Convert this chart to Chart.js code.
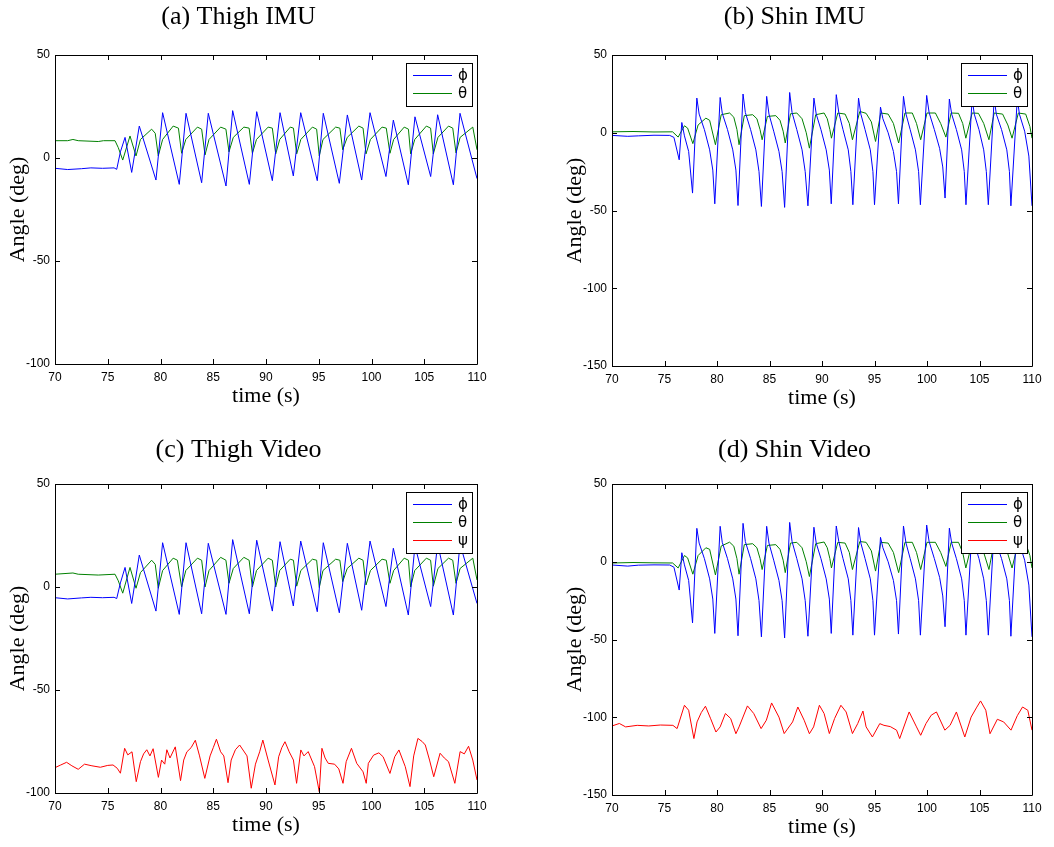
<!DOCTYPE html>
<html>
<head>
<meta charset="utf-8">
<script src="https://cdn.jsdelivr.net/npm/chart.js@4/dist/chart.umd.min.js"></script>
<style>
  body { margin: 0; background: #fff; width: 1054px; height: 847px; position: relative; overflow: hidden; }
  canvas { position: absolute; }
</style>
</head>
<body>
<canvas id="thighImu" width="498" height="420" style="left:0;top:0"></canvas>
<canvas id="shinImu" width="530" height="420" style="left:557px;top:0"></canvas>
<canvas id="thighVideo" width="506" height="418" style="left:0;top:429px"></canvas>
<canvas id="shinVideo" width="542" height="418" style="left:557px;top:429px"></canvas>
<script>
// time ticks shared by all panels
const timeTicks = [70, 75, 80, 85, 90, 95, 100, 105, 110];
const thighTicks = [-100, -50, 0, 50];
const shinTicks = [-150, -100, -50, 0, 50];

// [time (s), angle (deg)]
const thighImuPhi = [[70,-5],[71.2,-5.6],[72.5,-5.2],[73.4,-4.8],[74.5,-5],[75.6,-4.8],[75.85,-5.5],[76.2,3],[76.64,10],[77.27,-7],[77.99,15.5],[79.57,-10.7],[80.2,22],[81.78,-12.8],[82.42,21.7],[83.9,-12],[84.53,21.7],[86.21,-13.6],[86.84,23],[88.42,-12.8],[89.12,22.5],[90.6,-11],[91.33,22],[92.59,-8.7],[93.29,22],[94.86,-11],[95.43,21.7],[96.95,-12.3],[97.71,20.9],[99.07,-10.7],[99.86,22],[101.37,-9],[102.07,18.4],[103.49,-13],[104.12,20],[105.61,-9],[106.27,21],[107.76,-13],[108.39,21.7],[110,-10]];
const thighImuTheta = [[70,8.4],[71.2,8.4],[71.7,9],[72.2,8.4],[74.1,8],[74.6,8.4],[75.69,8.4],[76.0,5],[76.42,-1],[77.11,10.7],[77.68,1],[78.1,9],[79.16,14],[79.5,12],[79.79,1],[80.2,9],[81.2,15.5],[81.7,14.5],[82.0,2.3],[82.4,9],[83.5,15],[83.9,14],[84.22,1.5],[84.6,9],[85.7,15],[86.2,14],[86.49,3],[86.9,10],[87.9,15],[88.4,14.5],[88.71,2.3],[89.1,9],[90.2,15],[90.6,14.5],[90.92,2],[91.3,9],[92.3,15],[92.6,14.5],[92.91,2],[93.3,9],[94.4,15],[94.8,14],[95.05,1],[95.4,9],[96.6,15],[97.0,14.5],[97.27,4],[97.7,10],[98.8,15.5],[99.2,14.5],[99.48,2],[99.9,9],[101.0,15],[101.4,14.5],[101.75,2.3],[102.1,9],[103.1,15],[103.5,14],[103.71,2],[104.1,9],[105.2,15.5],[105.6,14.5],[105.86,2],[106.3,10],[107.3,15.5],[107.7,14.5],[108.01,2.5],[108.4,10],[109.6,15],[110,4]];

const shinImuPhi = [[70,-1.7],[71.5,-2.3],[72.5,-2],[74,-1.6],[75.5,-1.7],[75.9,-3],[76.4,-17.4],[76.65,6.6],[76.9,-2],[77.3,-12],[77.67,-38.8],[78.08,22.3],[78.3,12],[78.8,2],[79.3,-11],[79.6,-24],[79.79,-45.7],[80.3,22.7],[80.5,12.6],[81.0,2],[81.5,-11],[81.8,-24],[82.0,-46.8],[82.48,24.9],[82.7,13],[83.2,2],[83.7,-11],[84.0,-25],[84.23,-47.4],[84.73,23.4],[84.95,12],[85.4,1],[85.9,-12],[86.2,-25],[86.44,-48],[86.92,25.9],[87.15,13],[87.6,2],[88.1,-11],[88.4,-25],[88.66,-47],[89.23,22.3],[89.45,12],[89.9,2],[90.4,-11],[90.7,-24],[90.88,-45.7],[91.36,24.5],[91.6,13],[92.0,2],[92.5,-11],[92.75,-25],[92.94,-46.3],[93.48,22.3],[93.7,12],[94.1,2],[94.6,-11],[94.85,-25],[95.0,-46.3],[95.57,16.5],[95.8,9],[96.3,0],[96.8,-12],[97.1,-25],[97.28,-45.7],[97.76,23.4],[98.0,12],[98.4,2],[98.9,-11],[99.2,-25],[99.37,-46.3],[99.97,24],[100.2,13],[100.7,2],[101.2,-10],[101.5,-22],[101.72,-42],[102.13,21.7],[102.35,12],[102.8,2],[103.3,-11],[103.55,-25],[103.71,-46.3],[104.3,22],[104.5,12],[104.95,2],[105.4,-11],[105.65,-25],[105.84,-46.3],[106.4,22],[106.6,12],[107.1,2],[107.6,-11],[107.85,-25],[107.99,-47],[108.6,22],[108.8,12],[109.3,1],[109.7,-15],[110,-47]];
const shinImuTheta = [[70,0.6],[72,0.8],[74,0.5],[75.77,0.6],[76.3,-2.8],[76.9,4.5],[77.2,3],[77.7,-7],[78.2,5],[78.94,9.4],[79.3,8],[79.85,-7.7],[80.4,11.6],[81.2,12.7],[81.6,10],[81.9,2],[82.1,-7.7],[82.6,11],[83.4,11.6],[83.8,9],[84.1,2],[84.3,-4.5],[84.8,10.5],[85.6,11],[86.0,8],[86.3,1],[86.5,-6.6],[87.0,12.2],[87.6,12.7],[88.1,9],[88.5,0],[88.8,-9.9],[89.4,11.6],[90.2,12.7],[90.5,9],[90.75,2],[90.9,-3.5],[91.5,12.7],[92.2,12],[92.6,6],[92.9,-4.5],[93.6,13.7],[94.2,12.5],[94.7,7],[95.1,-5.6],[95.6,12.7],[96.3,12],[96.8,6],[97.3,-6.6],[97.9,12.7],[98.6,12.7],[99.0,6],[99.4,-4.5],[100.0,12.7],[100.8,12.7],[101.3,6],[101.8,-2.8],[102.3,12.7],[103.0,12.5],[103.4,6],[103.7,-3.5],[104.3,12.7],[104.9,12.5],[105.4,6],[105.9,-4.5],[106.4,12.7],[107.2,12],[107.7,5],[108.1,-3.5],[108.7,12.7],[109.4,12],[109.8,4],[110,-3.5]];

const thighVideoPhi = [[70,-5.2],[71.2,-5.8],[72.5,-5.3],[73.4,-5],[74.5,-5.2],[75.6,-5],[75.85,-5.6],[76.2,2],[76.64,9.5],[77.27,-8],[77.99,15.5],[79.57,-11.7],[80.2,21.5],[81.78,-13.3],[82.42,21.5],[83.9,-13],[84.53,21.2],[86.21,-13.3],[86.84,23],[88.42,-13],[89.12,22.7],[90.6,-11.7],[91.33,22],[92.59,-9.2],[93.29,22.3],[94.86,-12],[95.43,21.5],[96.95,-12.5],[97.71,21.2],[99.07,-11.3],[99.86,22.3],[101.37,-9.5],[102.07,18.8],[103.49,-13.6],[104.12,20],[105.61,-9.5],[106.27,21],[107.76,-13.6],[108.39,21],[110,-8]];
const thighVideoTheta = [[70,6.2],[71.7,6.8],[72.2,6.2],[74.1,5.8],[75.69,6.2],[76.0,3],[76.42,-3],[77.11,9.5],[77.68,-0.6],[78.1,7],[79.16,13],[79.5,11],[79.79,-0.6],[80.2,8],[81.2,14],[81.6,13],[82.0,0],[82.4,8],[83.5,14],[83.9,13],[84.22,0],[84.6,8],[85.7,14.4],[86.2,13],[86.49,1.8],[86.9,9],[87.9,14.4],[88.4,13],[88.71,0],[89.1,8],[90.2,14],[90.6,13],[90.92,0],[91.3,8],[92.3,13.5],[92.6,13],[92.91,0.4],[93.3,8],[94.4,13.5],[94.8,13],[95.05,-0.2],[95.4,8],[96.6,13.5],[97.0,13],[97.27,2.6],[97.7,9],[98.8,14],[99.2,13],[99.48,1],[99.9,8],[101.0,13.5],[101.4,13],[101.75,1.8],[102.1,8],[103.1,14],[103.5,13],[103.71,0],[104.1,8],[105.2,14],[105.6,13],[105.86,0.4],[106.3,9],[107.3,14],[107.7,13],[108.01,1.8],[108.4,9],[109.6,14],[110,3.4]];
const thighVideoPsi = [[70,-87.7],[70.5,-86.5],[71.1,-85.1],[71.6,-86.8],[72.2,-88.5],[72.8,-86],[73.5,-86.8],[74.3,-87.5],[75.0,-86.6],[75.5,-86.4],[75.9,-88],[76.2,-90.4],[76.6,-78.3],[76.9,-81.5],[77.3,-80],[77.7,-94.5],[78.1,-84.8],[78.4,-81],[78.7,-79],[79.0,-82],[79.3,-78.5],[79.8,-92.4],[80.1,-84],[80.4,-86],[80.6,-79],[80.9,-83],[81.4,-77.6],[81.9,-94],[82.2,-84],[82.5,-80],[82.9,-78],[83.3,-74.4],[83.7,-82],[84.2,-92.9],[84.7,-82],[85.0,-78],[85.3,-73.9],[85.7,-80],[86.0,-82],[86.4,-95],[86.7,-84],[87.1,-79],[87.5,-76.7],[88.2,-82],[88.6,-97.7],[89.0,-86],[89.4,-80],[89.7,-74.3],[90.2,-84],[90.85,-96.1],[91.2,-82.4],[91.5,-78],[91.8,-75.1],[92.2,-80],[92.6,-84],[92.9,-95.3],[93.3,-79.1],[93.6,-82],[94.0,-79.9],[94.6,-87.2],[95.05,-99.4],[95.3,-78.3],[95.6,-83],[95.9,-85.6],[96.5,-86],[96.9,-88.3],[97.3,-95.3],[97.6,-84.8],[98.1,-78.3],[98.6,-85.6],[99.2,-89.7],[99.5,-95.3],[99.7,-85.6],[100.2,-81.6],[100.7,-80.5],[101.1,-82.4],[101.75,-90.5],[102.2,-82.4],[102.6,-79.1],[103.2,-87.2],[103.65,-96.9],[104.0,-82],[104.4,-73.5],[104.8,-75],[105.1,-76.7],[105.5,-84],[105.9,-92.1],[106.5,-80.7],[106.9,-83],[107.3,-84.8],[107.9,-95.3],[108.4,-79.9],[108.8,-81],[109.2,-77.3],[109.6,-84],[110,-93.7]];

const shinVideoPhi = [[70,-2.1],[71.5,-2.8],[72.5,-2.2],[74,-2],[75.5,-2.1],[75.9,-3.5],[76.4,-18.2],[76.65,5.8],[76.9,-2],[77.3,-12],[77.67,-39.3],[78.08,21.5],[78.3,12],[78.8,2],[79.3,-11],[79.6,-24],[79.79,-46.1],[80.3,22.8],[80.5,12.5],[81.0,2],[81.5,-11],[81.8,-24],[82.0,-47.6],[82.48,24.7],[82.7,13],[83.2,2],[83.7,-11],[84.0,-25],[84.23,-48.3],[84.73,22.8],[84.95,12],[85.4,1],[85.9,-12],[86.2,-25],[86.44,-49],[86.92,25.3],[87.15,13],[87.6,2],[88.1,-11],[88.4,-25],[88.66,-47.9],[89.23,22.2],[89.45,12],[89.9,2],[90.4,-11],[90.7,-24],[90.88,-46.1],[91.36,23],[91.6,13],[92.0,2],[92.5,-11],[92.75,-25],[92.94,-47.2],[93.48,22],[93.7,12],[94.1,2],[94.6,-11],[94.85,-25],[95.0,-47.2],[95.57,15.7],[95.8,9],[96.3,0],[96.8,-12],[97.1,-25],[97.28,-46.5],[97.76,23],[98.0,12],[98.4,2],[98.9,-11],[99.2,-25],[99.37,-47.2],[99.97,23.6],[100.2,13],[100.7,2],[101.2,-10],[101.5,-22],[101.72,-41.8],[102.13,21.6],[102.35,12],[102.8,2],[103.3,-11],[103.55,-25],[103.71,-47.2],[104.3,22],[104.5,12],[104.95,2],[105.4,-11],[105.65,-25],[105.84,-47.2],[106.4,22],[106.6,12],[107.1,2],[107.6,-11],[107.85,-25],[107.99,-47.9],[108.55,22],[108.8,12],[109.3,1],[109.7,-15],[110,-48.3]];
const shinVideoTheta = [[70,-0.8],[72,-0.5],[74,-0.7],[75.77,-0.8],[76.3,-4],[76.9,4],[77.2,2.5],[77.7,-8],[78.2,4],[78.94,9],[79.3,8],[79.85,-8.5],[80.4,10.1],[81.2,12.6],[81.6,10],[81.9,2],[82.1,-8],[82.6,11],[83.4,11.6],[83.8,9],[84.1,2],[84.3,-5],[84.8,10.5],[85.6,11],[86.0,8],[86.3,1],[86.5,-7],[87.0,12],[87.6,12.5],[88.1,9],[88.5,0],[88.8,-9.5],[89.4,11.6],[90.2,12.7],[90.5,9],[90.75,2],[90.9,-4],[91.5,12.5],[92.2,12],[92.6,6],[92.9,-5],[93.6,13],[94.2,12.5],[94.7,7],[95.1,-6],[95.6,12.5],[96.3,12],[96.8,6],[97.3,-7],[97.9,12.5],[98.6,12.5],[99.0,6],[99.4,-5],[100.0,12.5],[100.8,12.5],[101.3,6],[101.8,-3],[102.3,12.5],[103.0,12.5],[103.4,6],[103.7,-4],[104.3,12.5],[104.9,12.5],[105.4,6],[105.9,-5],[106.4,12.5],[107.2,12],[107.7,5],[108.1,-4],[108.7,12.5],[109.4,12],[109.8,4],[110,-4]];
const shinVideoPsi = [[70,-105.6],[70.7,-104],[71.3,-106.2],[72.4,-105.2],[73.5,-105.6],[74.6,-105],[75.8,-105.2],[76.2,-107.3],[76.9,-92.3],[77.3,-95.5],[77.8,-113.7],[78.1,-103],[78.5,-97],[78.9,-92.9],[79.4,-101],[79.9,-109.5],[80.3,-106.2],[80.8,-97.6],[81.3,-100.8],[81.8,-110.6],[82.1,-106.2],[82.9,-92.7],[83.5,-97.6],[84.2,-107.3],[84.7,-101.9],[85.2,-90.8],[85.9,-99.9],[86.4,-110.5],[87.2,-103],[87.7,-93.4],[88.3,-101.9],[88.8,-110.6],[89.2,-106.2],[89.75,-92.3],[90.2,-97.6],[90.7,-110.5],[91.2,-100.8],[91.8,-92.3],[92.3,-96.6],[92.9,-110.5],[93.4,-104.1],[93.9,-96],[94.2,-106.2],[94.8,-112.7],[95.5,-104.1],[95.9,-105.2],[96.5,-106],[97.1,-108.3],[97.4,-113.7],[98.3,-96.6],[99.0,-106.2],[99.4,-111.6],[99.9,-104.1],[100.4,-98.7],[100.9,-96.6],[101.7,-108.3],[102.2,-105.2],[102.8,-96.6],[103.6,-112.7],[104.2,-99.9],[104.7,-94],[105.1,-89.5],[105.6,-95.5],[106.0,-110.6],[106.7,-101.3],[107.3,-103],[108.0,-108.3],[108.6,-99],[109.1,-93.4],[109.6,-95.5],[110,-108.3]];

const BLUE = "#0000ff", GREEN = "#008000", RED = "#ff0000";

// matlab-like box with inward ticks, plus a boxed legend in the top right
const boxPlugin = {
    id: "box",
    afterDatasetsDraw(chart) {
        const { ctx, chartArea: a, scales } = chart;
        ctx.save();
        ctx.strokeStyle = "#000";
        ctx.lineWidth = 1;
        ctx.beginPath();
        ctx.rect(Math.round(a.left) + 0.5, Math.round(a.top) + 0.5,
                 Math.round(a.right - a.left), Math.round(a.bottom - a.top));
        scales.x.ticks.forEach(t => {
            const px = Math.round(scales.x.getPixelForValue(t.value)) + 0.5;
            ctx.moveTo(px, a.bottom); ctx.lineTo(px, a.bottom - 5);
            ctx.moveTo(px, a.top); ctx.lineTo(px, a.top + 5);
        });
        scales.y.ticks.forEach(t => {
            const py = Math.round(scales.y.getPixelForValue(t.value)) + 0.5;
            ctx.moveTo(a.left, py); ctx.lineTo(a.left + 5, py);
            ctx.moveTo(a.right, py); ctx.lineTo(a.right - 5, py);
        });
        ctx.stroke();

        // legend
        const sets = chart.data.datasets;
        const w = 66, rowH = 18.4;
        const h = Math.round(rowH * sets.length + 6);
        const lx = Math.round(a.right - 5 - w), ly = Math.round(a.top + 8);
        ctx.fillStyle = "#fff";
        ctx.fillRect(lx, ly, w, h);
        ctx.strokeStyle = "#000";
        ctx.strokeRect(lx + 0.5, ly + 0.5, w, h);
        ctx.font = "15px 'DejaVu Sans'";
        ctx.textBaseline = "middle";
        sets.forEach((ds, i) => {
            const y = Math.round(ly + 11.5 + i * rowH) + 0.5;
            ctx.strokeStyle = ds.borderColor;
            ctx.beginPath();
            ctx.moveTo(lx + 7, y); ctx.lineTo(lx + 46, y);
            ctx.stroke();
            ctx.fillStyle = "#000";
            ctx.fillText(ds.label, lx + 52, y + 1);
        });
        ctx.restore();
    }
};

function makePanel(id, title, titleTop, yMin, yTicks, series, padRight, padBottom) {
    const ctx = document.getElementById(id).getContext("2d");
    return new Chart(ctx, {
        type: "line",
        data: {
            datasets: series.map(s => ({
                label: s.label,
                data: s.data.map(p => ({ x: p[0], y: p[1] })),
                borderColor: s.color,
                borderWidth: 1,
                pointRadius: 0,
                tension: 0,
                fill: false
            }))
        },
        options: {
            responsive: false,
            animation: false,
            devicePixelRatio: 1,
            layout: { padding: { left: 0, top: 0, right: padRight, bottom: padBottom } },
            plugins: {
                legend: { display: false },
                tooltip: { enabled: false },
                title: {
                    display: true,
                    text: title,
                    color: "#000",
                    font: { family: "'Liberation Serif'", size: 26, weight: "normal", lineHeight: 1.2 },
                    padding: { top: titleTop, bottom: 55 - 31.2 - titleTop }
                }
            },
            scales: {
                x: {
                    type: "linear",
                    min: 70, max: 110,
                    afterBuildTicks: s => { s.ticks = timeTicks.map(v => ({ value: v })); },
                    afterFit: s => { s.height = 45; },
                    grid: { display: false, drawTicks: false },
                    border: { display: false },
                    ticks: { color: "#000", padding: 6, maxRotation: 0, autoSkip: false,
                             font: { family: "'Liberation Sans'", size: 12 } },
                    title: { display: true, text: "time (s)", color: "#000", padding: 0,
                             font: { family: "'Liberation Serif'", size: 22, lineHeight: 1.2 } }
                },
                y: {
                    min: yMin, max: 50,
                    afterBuildTicks: s => { s.ticks = yTicks.map(v => ({ value: v })); },
                    afterFit: s => { s.width = 55; },
                    grid: { display: false, drawTicks: false },
                    border: { display: false },
                    ticks: { color: "#000", padding: 5, autoSkip: false,
                             font: { family: "'Liberation Sans'", size: 12 } },
                    title: { display: true, text: "Angle (deg)", color: "#000", padding: { top: 5, bottom: 0 },
                             font: { family: "'Liberation Serif'", size: 22, lineHeight: 1.2 } }
                }
            }
        },
        plugins: [boxPlugin]
    });
}

makePanel("thighImu", "(a) Thigh IMU", 2, -100, thighTicks, [
    { label: "ϕ", data: thighImuPhi, color: BLUE },
    { label: "θ", data: thighImuTheta, color: GREEN }
], 21, 11);

makePanel("shinImu", "(b) Shin IMU", 2, -150, shinTicks, [
    { label: "ϕ", data: shinImuPhi, color: BLUE },
    { label: "θ", data: shinImuTheta, color: GREEN }
], 55, 9);

makePanel("thighVideo", "(c) Thigh Video", 5.5, -100, thighTicks, [
    { label: "ϕ", data: thighVideoPhi, color: BLUE },
    { label: "θ", data: thighVideoTheta, color: GREEN },
    { label: "ψ", data: thighVideoPsi, color: RED }
], 29, 9);

makePanel("shinVideo", "(d) Shin Video", 5.5, -150, shinTicks, [
    { label: "ϕ", data: shinVideoPhi, color: BLUE },
    { label: "θ", data: shinVideoTheta, color: GREEN },
    { label: "ψ", data: shinVideoPsi, color: RED }
], 67, 7);
</script>
</body>
</html>
